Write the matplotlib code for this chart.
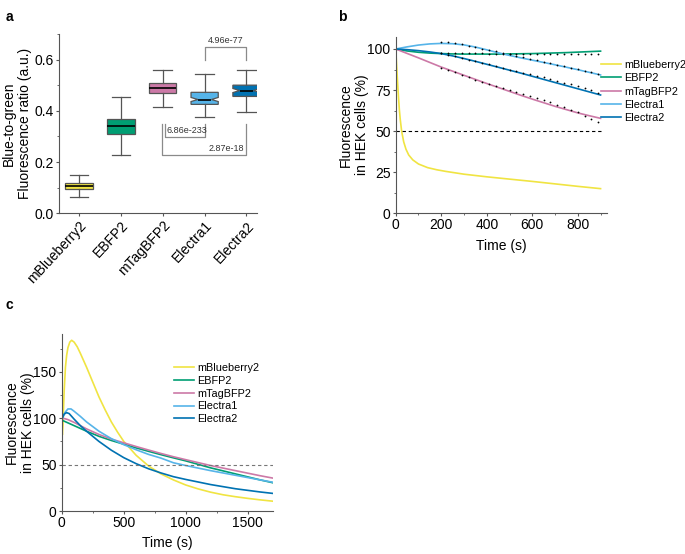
import matplotlib
matplotlib.use('Agg')
import matplotlib.pyplot as plt
import numpy as np

plt.rcParams['font.family'] = ['Liberation Sans', 'DejaVu Sans']

# colours
c_mb = '#F0E442'
c_eb = '#009E73'
c_mt = '#CC79A7'
c_e1 = '#56B4E9'
c_e2 = '#0072B2'

# ---- panel a : box plot data ----
names = ['mBlueberry2', 'EBFP2', 'mTagBFP2', 'Electra1', 'Electra2']
box_colors = [c_mb, c_eb, c_mt, c_e1, c_e2]
whislo = [0.063, 0.229, 0.414, 0.374, 0.397]
q1 = [0.094, 0.310, 0.469, 0.425, 0.456]
med = [0.106, 0.340, 0.490, 0.444, 0.479]
q3 = [0.118, 0.369, 0.508, 0.472, 0.500]
whishi = [0.148, 0.454, 0.561, 0.544, 0.559]
notched = [False, False, False, True, True]

# ---- panel b : photobleaching, 0-900 s ----
t_b_mb = [0, 4, 8, 12, 16, 20, 26, 35, 45, 57, 75, 100, 140, 180, 220, 300, 400, 500, 600, 700, 800, 900]
b_mb = [100, 90, 80, 71, 63, 57, 50, 43.5, 39, 35.5, 32.5, 30, 27.8, 26.5, 25.5, 23.8, 22.2, 20.8, 19.4, 17.9, 16.4, 15]
t_b = [0, 50, 100, 150, 200, 250, 300, 350, 400, 450, 500, 550, 600, 650, 700, 750, 800, 850, 900]
b_eb = [100, 98.8, 98, 97.5, 97.2, 97.0, 96.9, 96.9, 96.9, 96.9, 97.0, 97.1, 97.2, 97.4, 97.6, 97.8, 98.1, 98.4, 98.7]
b_mt = [100, 97.3, 94.6, 91.8, 89, 86.5, 84, 81.5, 79, 76.6, 74.2, 71.8, 69.5, 67.3, 65.1, 63.1, 61.1, 59.4, 57.8]
b_e1 = [100, 101.3, 102.4, 103.1, 103.4, 103.2, 102.5, 101.2, 99.5, 97.7, 96.1, 94.6, 93.2, 91.8, 90.4, 88.9, 87.4, 85.8, 84.2]
b_e2 = [100, 99.6, 99, 98.2, 97.2, 95.8, 94.2, 92.5, 90.7, 88.9, 87.1, 85.3, 83.4, 81.5, 79.6, 77.7, 75.8, 73.9, 72]

# measured points (black dots)
t_dots = [200, 230, 260, 290, 320, 350, 380, 410, 440, 470, 500, 530, 560, 590, 620, 650, 680, 710, 740, 770, 800, 830, 860, 890]
d_eb = [97.8, 97.6, 97.5, 97.5, 97.4, 97.3, 97.3, 97.2, 97.2, 97.2, 97.1, 97.1, 97.1, 97.1, 97.1, 97.0, 97.1, 97.1, 97.1, 97.0, 97.1, 97.0, 97.0, 97.0]
d_mt = [88.5, 87.2, 85.8, 84.3, 82.8, 81.3, 80.0, 78.7, 77.5, 76.5, 75.2, 74.0, 72.8, 71.5, 70.3, 69.0, 67.7, 66.2, 64.8, 63.0, 61.5, 59.5, 57.5, 55.3]
d_e1 = [104.5, 104.0, 103.5, 103.0, 102.0, 101.2, 100.2, 99.3, 98.5, 97.5, 96.8, 96.0, 95.0, 94.0, 93.2, 92.3, 91.4, 90.5, 89.5, 88.6, 87.8, 86.9, 86.0, 85.0]
d_e2 = [97.3, 96.5, 95.5, 94.5, 93.5, 92.6, 91.6, 90.6, 89.6, 88.6, 87.5, 86.6, 85.6, 84.7, 83.7, 82.7, 81.7, 80.6, 79.6, 78.5, 77.5, 76.4, 75.0, 73.0]

# ---- panel c : 0-1700 s ----
t_c_mb = [0, 5, 10, 15, 20, 30, 40, 50, 65, 80, 100, 125, 150, 200, 250, 300, 350, 400, 450, 500, 600, 700, 800, 900, 1000, 1100, 1200, 1300, 1400, 1500, 1600, 1700]
c_mb_v = [97, 82, 92, 112, 130, 155, 168, 176, 182, 184, 182, 177, 170, 155, 139, 123, 109, 96, 85, 75, 60, 48.5, 40, 33.5, 28, 23.8, 20.3, 17.5, 15.4, 13.6, 12, 10.6]
t_c = [0, 25, 50, 75, 100, 150, 200, 300, 400, 500, 600, 700, 800, 900, 1000, 1200, 1400, 1600, 1700]
c_eb_v = [98, 96.5, 95, 93.5, 92, 89, 86, 80.5, 76, 72, 68, 64.3, 60.7, 57.3, 54, 46.5, 40, 33.5, 30.5]
c_mt_v = [100, 99.5, 98.5, 97, 95.5, 92, 88.5, 82.5, 77.5, 73.5, 69.5, 65.7, 62, 58.5, 55.3, 49, 43.5, 38, 35.5]
c_e1_v = [98, 106, 110, 110, 107.5, 102, 96, 86, 78, 71.5, 66, 61, 57, 52, 49, 43.5, 38.5, 33.5, 31]
t_c_e2 = [0, 20, 40, 60, 80, 100, 150, 200, 300, 400, 500, 600, 700, 800, 900, 1000, 1200, 1400, 1600, 1700]
c_e2_v = [99, 104.5, 106, 105, 102, 99, 92, 86, 75, 65.5, 57.5, 51, 45.5, 41, 37, 34, 28.5, 24, 20.5, 19]

fig = plt.figure(figsize=(6.85, 5.54), dpi=100)

def style_axes(ax):
    for s in ['top', 'right']:
        ax.spines[s].set_visible(False)
    for s in ['left', 'bottom']:
        ax.spines[s].set_color('#555555')
        ax.spines[s].set_linewidth(0.8)
    ax.tick_params(which='both', direction='out', color='#555555', labelsize=10, pad=1.2)
    ax.tick_params(which='major', length=2.5)
    ax.tick_params(which='minor', length=1.6)

# ---------- panel a ----------
axa = fig.add_axes([0.0861, 0.615, 0.289, 0.3238])
pos = np.arange(1, 6)
for i in range(5):
    st = dict(med=med[i], q1=q1[i], q3=q3[i], whislo=whislo[i], whishi=whishi[i], fliers=[])
    if notched[i]:
        st['cilo'] = med[i] - 0.008
        st['cihi'] = med[i] + 0.008
    axa.bxp([st], positions=[pos[i]], widths=0.65, capwidths=0.45, shownotches=notched[i],
            patch_artist=True, showfliers=False,
            boxprops=dict(facecolor=box_colors[i], edgecolor='#555555', linewidth=0.9),
            medianprops=dict(color='black', linewidth=1.2),
            whiskerprops=dict(color='#555555', linewidth=0.9),
            capprops=dict(color='#555555', linewidth=0.9))
axa.set_xlim(0.52, 5.25)
axa.set_ylim(0, 0.7)
axa.set_yticks([0.0, 0.2, 0.4, 0.6])
axa.set_yticks([0.1, 0.3, 0.5, 0.7], minor=True)
axa.set_yticklabels(['0.0', '0.2', '0.4', '0.6'])
axa.set_xticks(pos)
axa.set_xticklabels(names, rotation=47, ha='right', rotation_mode='anchor', fontsize=10.5)
axa.set_ylabel('Blue-to-green\nFluorescence ratio (a.u.)', fontsize=10, labelpad=2)
style_axes(axa)

br = '#8a8a8a'
# 4.96e-77 bracket
axa.plot([4, 4, 5, 5], [0.60, 0.65, 0.65, 0.60], color=br, lw=0.9)
axa.text(4.5, 0.657, '4.96e-77', ha='center', va='bottom', fontsize=6.5, color='#333333')
# 6.86e-233 bracket
axa.plot([3.05, 3.05, 4.0, 4.0], [0.348, 0.298, 0.298, 0.348], color=br, lw=0.9)
axa.text(3.1, 0.304, '6.86e-233', ha='left', va='bottom', fontsize=6.5, color='#333333')
# 2.87e-18 bracket
axa.plot([2.98, 2.98, 5.0, 5.0], [0.348, 0.229, 0.229, 0.348], color=br, lw=0.9)
axa.text(4.95, 0.235, '2.87e-18', ha='right', va='bottom', fontsize=6.5, color='#333333')

# ---------- panel b ----------
axb = fig.add_axes([0.5777, 0.615, 0.308, 0.3188])
axb.plot(t_b_mb, b_mb, color=c_mb, lw=1.2, label='mBlueberry2')
axb.plot(t_b, b_eb, color=c_eb, lw=1.2, label='EBFP2')
axb.plot(t_b, b_mt, color=c_mt, lw=1.2, label='mTagBFP2')
axb.plot(t_b, b_e1, color=c_e1, lw=1.2, label='Electra1')
axb.plot(t_b, b_e2, color=c_e2, lw=1.2, label='Electra2')
for d in [d_eb, d_mt, d_e1, d_e2]:
    axb.plot(t_dots, d, 'o', color='black', ms=1.3, mew=0)
axb.plot([0, 900], [50, 50], color='black', lw=0.8, ls=(0, (3, 2.5)))
axb.set_xlim(0, 927)
axb.set_ylim(0, 107.5)
axb.set_xticks([0, 200, 400, 600, 800])
axb.set_xticks([100, 300, 500, 700, 900], minor=True)
axb.set_yticks([0, 25, 50, 75, 100])
axb.set_yticks([12.5, 37.5, 62.5, 87.5], minor=True)
axb.set_xlabel('Time (s)', fontsize=10, labelpad=4.5)
axb.set_ylabel('Fluorescence\nin HEK cells (%)', fontsize=10, labelpad=-1)
style_axes(axb)
axb.legend(loc='upper left', bbox_to_anchor=(0.877, 0.892), bbox_transform=fig.transFigure,
           frameon=False, fontsize=7.8, handlelength=1.85, handletextpad=0.3,
           labelspacing=0.31, borderpad=0, borderaxespad=0)

# ---------- panel c ----------
axc = fig.add_axes([0.0901, 0.0776, 0.308, 0.3194])
axc.plot(t_c_mb, c_mb_v, color=c_mb, lw=1.2, label='mBlueberry2')
axc.plot(t_c, c_eb_v, color=c_eb, lw=1.2, label='EBFP2')
axc.plot(t_c, c_mt_v, color=c_mt, lw=1.2, label='mTagBFP2')
axc.plot(t_c, c_e1_v, color=c_e1, lw=1.2, label='Electra1')
axc.plot(t_c_e2, c_e2_v, color=c_e2, lw=1.2, label='Electra2')
axc.plot([0, 1700], [50, 50], color='#777777', lw=0.8, ls=(0, (3, 2.5)))
axc.set_xlim(0, 1700)
axc.set_ylim(0, 190.7)
axc.set_xticks([0, 500, 1000, 1500])
axc.set_xticks([250, 750, 1250], minor=True)
axc.set_yticks([0, 50, 100, 150])
axc.set_yticks([25, 75, 125, 175], minor=True)
axc.set_xlabel('Time (s)', fontsize=10, labelpad=4.5)
axc.set_ylabel('Fluorescence\nin HEK cells (%)', fontsize=10, labelpad=-1)
style_axes(axc)
axc.legend(loc='upper left', bbox_to_anchor=(0.254, 0.345), bbox_transform=fig.transFigure,
           frameon=False, fontsize=7.8, handlelength=1.85, handletextpad=0.3,
           labelspacing=0.26, borderpad=0, borderaxespad=0)

# panel letters
fig.text(0.008, 0.982, 'a', fontsize=10, fontweight='bold', va='top')
fig.text(0.494, 0.982, 'b', fontsize=10, fontweight='bold', va='top')
fig.text(0.008, 0.462, 'c', fontsize=10, fontweight='bold', va='top')

fig.savefig('out.png', dpi=100)
